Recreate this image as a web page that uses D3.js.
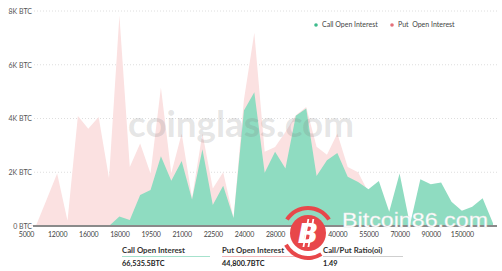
<!DOCTYPE html>
<html>
<head>
<meta charset="utf-8">
<script src="https://cdn.jsdelivr.net/npm/d3@7"></script>
<style>
  body { margin: 0; background: #fff; }
  svg { display: block; font-family: Lato, "Open Sans", sans-serif; }
</style>
</head>
<body>
<svg id="chart" width="502" height="271"></svg>
<script>
// strike prices (x categories)
var strikes = [5000, 10000, 11000, 12000, 14000, 15000, 16000, 17000, 17500, 18000,
  18500, 19000, 19500, 20000, 20500, 21000, 21500, 22000, 22500, 23000,
  23500, 24000, 25000, 26000, 28000, 30000, 32000, 35000, 36000, 38000,
  40000, 45000, 50000, 55000, 60000, 65000, 70000, 75000, 80000, 90000,
  100000, 120000, 150000, 200000, 250000, 300000];

// open interest in BTC
var callOI = [0, 0, 0, 0, 0, 0, 0, 0, 0, 350,
  220, 1150, 1340, 2600, 1680, 2420, 990, 2860, 780, 1500,
  300, 4300, 4980, 1980, 2760, 2140, 4100, 4370, 1860, 2450,
  2720, 1830, 1640, 1370, 1670, 530, 1950, 50, 1740, 1550,
  1620, 900, 570, 720, 1030, 100];
var putOI = [0, 50, 1000, 1950, 200, 4090, 3620, 4060, 1780, 7830,
  2200, 3070, 1950, 5150, 1960, 3440, 1040, 3450, 1400, 2000,
  300, 4700, 7190, 2760, 2940, 3500, 4120, 4430, 2950, 2650,
  3440, 2200, 2000, 1250, 900, 300, 800, 20, 600, 500,
  400, 300, 300, 200, 200, 50];

var yTicks = [0, 2000, 4000, 6000, 8000];
var xTickLabels = [5000, 12000, 16000, 18000, 19500, 21000, 22500, 24000, 28000,
  35000, 40000, 55000, 70000, 90000, 150000];
var seriesNames = ["Call Open Interest", "Put  Open Interest"];
var summaryLabels = ["Call Open Interest", "Put Open Interest", "Call/Put Ratio(oi)"];
var summaryValues = ["66,535.5BTC", "44,800.7BTC", "1.49"];

var svg = d3.select('#chart');

var x = d3.scalePoint()
  .domain(strikes)
  .range([26, 493]);

var y = d3.scaleLinear()
  .domain([0, 8000])
  .range([226, 11]);

// dotted grid
svg.append("g")
  .selectAll("line")
  .data(yTicks.slice(1))
  .enter().append("line")
    .attr("x1", 34)
    .attr("x2", 497)
    .attr("y1", d => y(d))
    .attr("y2", d => y(d))
    .attr("stroke", "#d6d6d6")
    .attr("stroke-width", 0.8)
    .attr("stroke-dasharray", "1,2");

var area = d3.area()
  .x((d, i) => x(strikes[i]))
  .y0(y(0))
  .y1(d => y(d));

svg.append("path")
  .datum(putOI)
  .attr("d", area)
  .attr("fill", "#fbe1e1");

svg.append("path")
  .datum(callOI)
  .attr("d", area)
  .attr("fill", "#8fdcc1");

// watermark
svg.append("text")
  .attr("x", 128)
  .attr("y", 137)
  .attr("textLength", 226)
  .attr("lengthAdjust", "spacingAndGlyphs")
  .attr("font-size", 37)
  .attr("font-weight", "bold")
  .attr("fill", "#7a7a7a")
  .attr("fill-opacity", 0.2)
  .text("coinglass.com");

// base line
svg.append("line")
  .attr("x1", 33)
  .attr("x2", 497)
  .attr("y1", y(0))
  .attr("y2", y(0))
  .attr("stroke", "#8a8a8a")
  .attr("stroke-width", 1.8);

var yAxis = d3.axisLeft(y)
  .tickValues(yTicks)
  .tickSize(0)
  .tickPadding(1)
  .tickFormat(d => d === 0 ? "0 BTC" : (d / 1000) + "K BTC");

svg.append("g")
  .attr("transform", "translate(33,0)")
  .call(yAxis)
  .call(g => g.select(".domain").remove())
  .selectAll("text")
    .attr("font-family", "Lato, sans-serif")
    .attr("font-size", 7)
    .attr("fill", "#555");

var xAxis = d3.axisBottom(x)
  .tickValues(xTickLabels)
  .tickSize(0)
  .tickPadding(6);

svg.append("g")
  .attr("transform", "translate(0," + y(0) + ")")
  .call(xAxis)
  .call(g => g.select(".domain").remove())
  .selectAll("text")
    .attr("font-family", "Lato, sans-serif")
    .attr("font-size", 7)
    .attr("letter-spacing", -0.2)
    .attr("fill", "#444");

// legend
var legendColors = ["#3dbb8c", "#e4717b"];
var legendX = [316, 392];
var legend = svg.append("g")
  .selectAll("g")
  .data(seriesNames)
  .enter().append("g")
    .attr("transform", (d, i) => "translate(" + legendX[i] + ",25)");
legend.append("circle")
  .attr("r", 1.8)
  .attr("fill", (d, i) => legendColors[i]);
legend.append("text")
  .attr("x", 6)
  .attr("dy", "0.35em")
  .attr("font-size", 7)
  .attr("fill", "#444")
  .style("white-space", "pre")
  .text(d => d);

// summary block under the chart
var sumX = [122, 222, 323];
var sumW = [88, 92, 80];
var sumLine = ["#a6e2cd", "#f2b8bb", "#cfcfcf"];
var summary = svg.append("g")
  .selectAll("g")
  .data(summaryLabels)
  .enter().append("g")
    .attr("transform", (d, i) => "translate(" + sumX[i] + ",0)");
summary.append("text")
  .attr("y", 252.5)
  .attr("font-size", 7.8)
  .attr("font-weight", "bold")
  .attr("fill", "#333")
  .text(d => d);
summary.append("line")
  .attr("x1", 0)
  .attr("x2", (d, i) => sumW[i])
  .attr("y1", 256.5)
  .attr("y2", 256.5)
  .attr("stroke", (d, i) => sumLine[i])
  .attr("stroke-width", 1);
summary.append("text")
  .attr("y", 265.5)
  .attr("font-size", 7.3)
  .attr("font-weight", "bold")
  .attr("fill", "#222")
  .text((d, i) => summaryValues[i]);

// Bitcoin86 stamp (covers part of the axis, as in the source image)
var logo = svg.append("g").attr("transform", "translate(308,233)");
var ring = d3.arc().innerRadius(23).outerRadius(27);
logo.append("path")
  .attr("d", ring({startAngle: -1.0, endAngle: 1.0}))
  .attr("fill", "#e8474a");
logo.append("path")
  .attr("d", ring({startAngle: 2.58, endAngle: 4.22}))
  .attr("fill", "#e8474a");
logo.append("circle")
  .attr("r", 18)
  .attr("fill", "#e8474a");
logo.append("rect").attr("x", -3).attr("y", -14).attr("width", 1.8).attr("height", 28).attr("fill", "#fff").attr("transform", "skewX(-10)");
logo.append("rect").attr("x", 2).attr("y", -14).attr("width", 1.8).attr("height", 28).attr("fill", "#fff").attr("transform", "skewX(-10)");
logo.append("text")
  .attr("x", 0)
  .attr("y", 10)
  .attr("text-anchor", "middle")
  .attr("font-family", "'DejaVu Sans', sans-serif")
  .attr("font-size", 27)
  .attr("font-weight", "bold")
  .attr("font-style", "italic")
  .attr("fill", "#fff")
  .text("B");

svg.append("text")
  .attr("x", 342)
  .attr("y", 227)
  .attr("textLength", 146)
  .attr("lengthAdjust", "spacingAndGlyphs")
  .attr("font-family", "'Liberation Sans', Arial, sans-serif")
  .attr("font-size", 21)
  .attr("fill", "#fff")
  .attr("stroke", "#e6e6e6")
  .attr("stroke-width", 0.3)
  .text("Bitcoin86.com");
</script>
</body>
</html>
